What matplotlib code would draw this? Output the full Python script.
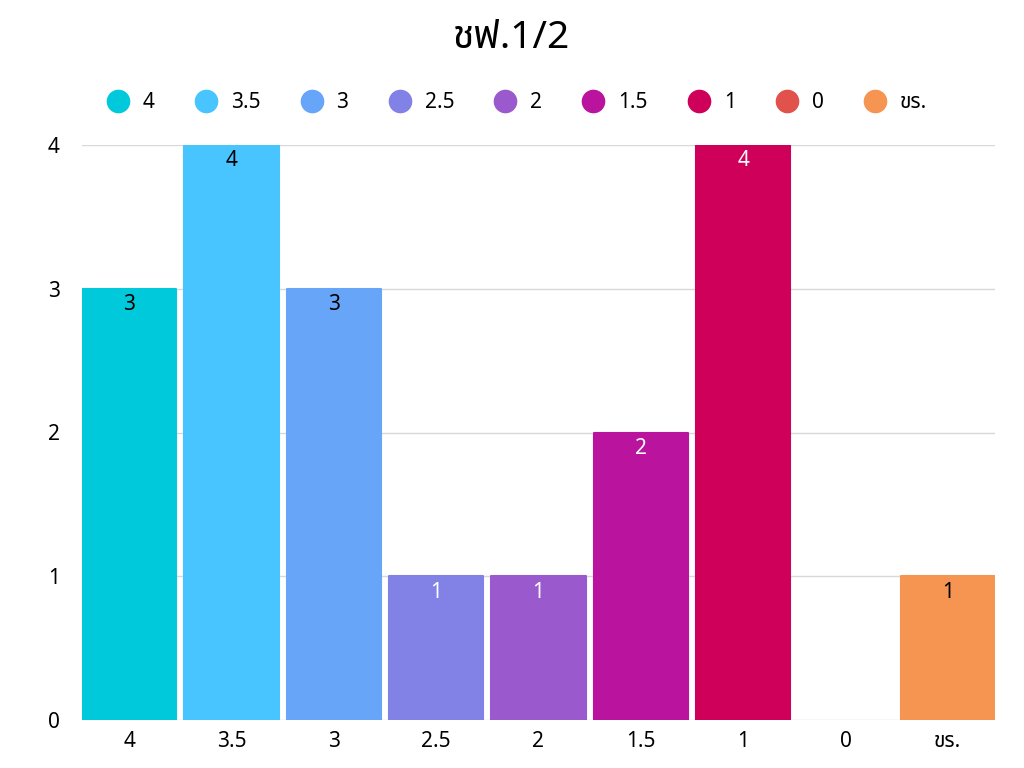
import matplotlib.pyplot as plt
from matplotlib.lines import Line2D

plt.rcParams['font.family'] = ['Noto Sans', 'Noto Sans Thai', 'Loma', 'Garuda', 'DejaVu Sans']

# Data
categories = ['4', '3.5', '3', '2.5', '2', '1.5', '1', '0', 'ขร.']
counts = [3, 4, 3, 1, 1, 2, 4, 0, 1]
colors = ['#00C9DB', '#48C4FE', '#67A5F8', '#8181E6', '#9B59CE', '#BA139E',
          '#CF0059', '#E0524B', '#F69451']
label_colors = ['black', 'black', 'black', 'white', 'white', 'white', 'white', 'white', 'black']

fig = plt.figure(figsize=(10.24, 7.68), dpi=100)
ax = fig.add_axes([82 / 1024, 48 / 768, 913 / 1024, 575 / 768])

x = range(len(categories))
edge_widths = [1.5 if v > 0 else 0 for v in counts]
bars = ax.bar(x, counts, width=0.92, color=colors, edgecolor=colors, linewidth=edge_widths,
              joinstyle='round', zorder=2)

for i, (b, v) in enumerate(zip(bars, counts)):
    if v > 0:
        ax.text(b.get_x() + b.get_width() / 2, v - 0.11, str(v), ha='center', va='center',
                color=label_colors[i], fontsize=15, zorder=3)

ax.set_xlim(-0.46, len(categories) - 0.54)
ax.set_ylim(0, 4)
ax.set_yticks([0, 1, 2, 3, 4])
ax.set_xticks(list(x))
ax.set_xticklabels(categories)
ax.tick_params(axis='both', length=0, labelsize=15, colors='black')
ax.tick_params(axis='y', pad=16)
ax.tick_params(axis='x', pad=8)
ax.grid(axis='y', color='#D9D9D9', linewidth=1, zorder=0)
for s in ax.spines.values():
    s.set_visible(False)

fig.suptitle('ชฟ.1/2', y=0.975, fontsize=28)

handles = [Line2D([0], [0], marker='o', linestyle='', markersize=16,
                  markerfacecolor=c, markeredgecolor=c) for c in colors]
fig.legend(handles, categories, loc='center', bbox_to_anchor=(0.5, 0.866), ncol=9,
           frameon=False, fontsize=15, handletextpad=0.2, columnspacing=1.45)

plt.savefig('out.png')
